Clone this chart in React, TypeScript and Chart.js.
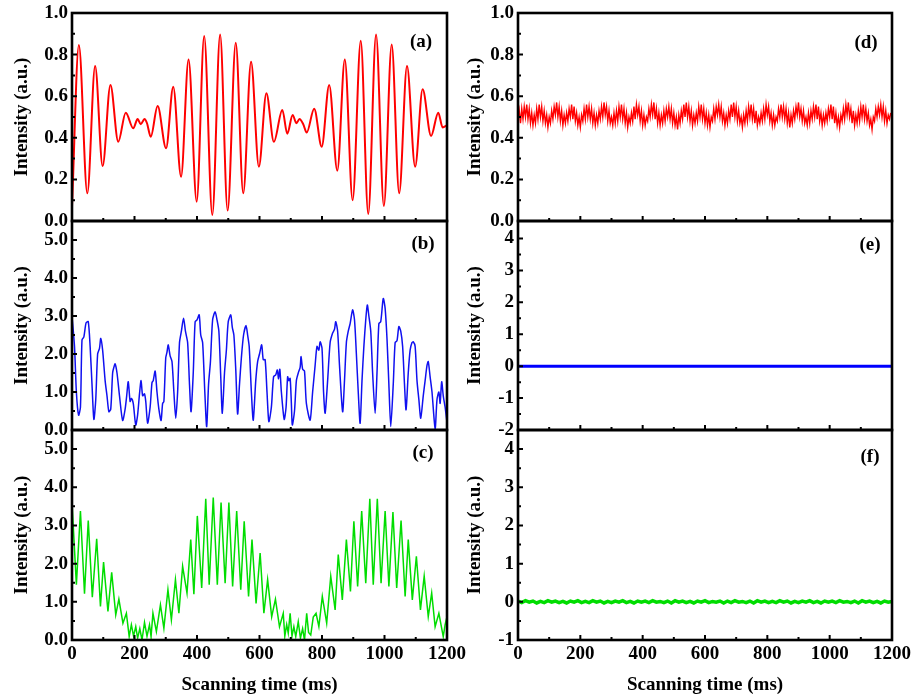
import React, { useEffect, useRef } from "react";
import { Chart, registerables } from "chart.js";

Chart.register(...registerables);

// ---------- tick values ----------
const X_TICKS = [0, 200, 400, 600, 800, 1000, 1200];
const X_MINOR = [100, 300, 500, 700, 900, 1100];
const Y_TICKS_01 = [0, 0.2, 0.4, 0.6, 0.8, 1.0];
const Y_MINOR_01 = [0.1, 0.3, 0.5, 0.7, 0.9];
const Y_TICKS_5 = [0, 1, 2, 3, 4, 5];
const Y_MINOR_5 = [0.5, 1.5, 2.5, 3.5, 4.5];
const Y_TICKS_E = [-2, -1, 0, 1, 2, 3, 4];
const Y_MINOR_E = [-1.5, -0.5, 0.5, 1.5, 2.5, 3.5];
const Y_TICKS_F = [-1, 0, 1, 2, 3, 4];
const Y_MINOR_F = [-0.5, 0.5, 1.5, 2.5, 3.5];

// ---------- (a) red ----------
const A_TIME = [0, 22, 49, 74, 98, 123, 148, 172, 196, 210, 220, 232, 240, 252, 274, 301, 324, 349, 373, 399, 423, 449, 474, 498, 524, 548, 573, 598, 622, 646, 673, 689, 706, 718, 728, 740, 751, 775, 799, 823, 849, 873, 898, 924, 948, 973, 998, 1023, 1047, 1072, 1098, 1122, 1149, 1172, 1186, 1200];
const A_VAL = [0.07, 0.846, 0.133, 0.745, 0.264, 0.654, 0.381, 0.521, 0.446, 0.49, 0.465, 0.49, 0.47, 0.405, 0.553, 0.35, 0.646, 0.213, 0.777, 0.093, 0.889, 0.029, 0.897, 0.05, 0.857, 0.133, 0.766, 0.261, 0.614, 0.381, 0.534, 0.42, 0.51, 0.47, 0.49, 0.465, 0.425, 0.54, 0.357, 0.654, 0.242, 0.777, 0.10, 0.867, 0.034, 0.897, 0.072, 0.849, 0.133, 0.745, 0.261, 0.633, 0.409, 0.521, 0.45, 0.46];

// ---------- (b) blue ----------
const B_TIME = [0, 8, 14, 21, 27, 32, 38, 45, 52, 58, 64, 70, 76, 82, 88, 92, 98, 106, 112, 118, 124, 130, 134, 138, 144, 152, 162, 170, 175, 180, 186, 190, 196, 204, 210, 216, 221, 226, 232, 236, 242, 250, 256, 260, 266, 272, 278, 285, 290, 294, 300, 304, 308, 314, 320, 326, 332, 338, 344, 350, 357, 363, 370, 376, 381, 388, 394, 400, 407, 412, 418, 425, 431, 437, 443, 450, 458, 464, 470, 476, 481, 488, 494, 500, 508, 513, 518, 524, 530, 536, 542, 549, 557, 562, 567, 574, 580, 588, 594, 600, 607, 612, 618, 624, 630, 638, 645, 652, 657, 661, 665, 670, 679, 685, 690, 694, 698, 702, 705, 712, 718, 724, 730, 733, 738, 744, 750, 762, 770, 778, 784, 790, 794, 800, 805, 810, 818, 826, 834, 840, 844, 850, 856, 866, 872, 878, 884, 890, 898, 904, 910, 916, 922, 928, 934, 940, 945, 950, 956, 962, 970, 976, 982, 988, 996, 1002, 1008, 1014, 1020, 1028, 1034, 1040, 1046, 1052, 1058, 1064, 1069, 1076, 1082, 1088, 1092, 1098, 1104, 1110, 1116, 1124, 1130, 1136, 1140, 1146, 1152, 1162, 1168, 1174, 1178, 1183, 1188, 1194, 1200];
const B_VAL = [3.0, 2.2, 1.0, 0.39, 0.6, 2.37, 2.45, 2.82, 2.85, 2.2, 1.2, 0.28, 0.8, 2.0, 2.15, 2.41, 2.1, 1.3, 0.9, 0.48, 0.55, 1.5, 1.65, 1.74, 1.5, 0.9, 0.25, 0.55, 0.9, 1.27, 0.75, 0.83, 0.7, 0.13, 0.4, 0.95, 1.3, 0.9, 0.95, 0.75, 0.18, 0.6, 1.25, 1.3, 1.55, 1.0, 0.55, 0.25, 0.7, 0.75, 1.9, 2.05, 2.24, 1.95, 1.8, 1.0, 0.31, 1.0, 2.3, 2.6, 2.94, 2.6, 2.3, 1.2, 0.48, 1.5, 2.85, 2.9, 3.03, 2.5, 2.3, 1.0, 0.09, 1.2, 1.8, 2.9, 3.11, 2.9, 2.6, 1.4, 0.44, 1.5, 2.1, 2.85, 3.03, 2.7, 2.5, 1.6, 0.42, 1.2, 1.9, 2.5, 2.75, 2.5, 2.2, 1.0, 0.26, 1.3, 1.8, 2.0, 2.24, 1.85, 1.85, 1.0, 0.22, 0.6, 1.4, 1.45, 1.58, 1.35, 1.6, 1.0, 0.28, 0.6, 1.4, 1.3, 1.36, 0.7, 0.13, 0.5, 1.3, 1.5, 1.65, 1.93, 1.6, 1.55, 0.7, 0.26, 1.0, 1.7, 2.2, 2.1, 2.32, 2.15, 1.0, 0.44, 1.3, 2.3, 2.55, 2.65, 2.85, 2.6, 1.7, 0.48, 1.3, 2.3, 2.6, 2.8, 3.16, 2.9, 2.0, 1.0, 0.18, 1.3, 2.2, 2.9, 3.29, 3.0, 2.6, 1.5, 0.44, 1.5, 2.8, 2.85, 3.46, 3.2, 2.4, 1.2, 0.09, 1.2, 2.3, 2.35, 2.72, 2.6, 2.2, 1.2, 0.53, 1.5, 2.1, 2.3, 2.32, 2.2, 1.3, 0.8, 0.31, 0.9, 1.3, 1.7, 1.8, 1.4, 1.0, 0.04, 0.8, 1.0, 0.7, 1.27, 0.9, 0.6, 0.2];

// ---------- (c) green ----------
const C_TIME = [0, 14, 27, 40, 52, 65, 79, 91, 101, 115, 127, 140, 150, 163, 174, 183, 190, 197, 204, 210, 217, 224, 232, 240, 248, 253, 259, 270, 283, 294, 307, 318, 331, 342, 354, 368, 380, 390, 401, 415, 428, 439, 452, 465, 477, 490, 502, 514, 527, 540, 551, 565, 576, 589, 602, 614, 626, 639, 651, 664, 676, 681, 687, 692, 698, 704, 710, 716, 724, 731, 738, 744, 751, 757, 764, 772, 781, 790, 801, 815, 828, 842, 852, 865, 878, 891, 902, 914, 927, 940, 953, 964, 977, 989, 1002, 1014, 1027, 1039, 1053, 1066, 1076, 1089, 1102, 1115, 1127, 1140, 1151, 1162, 1174, 1188, 1194, 1200];
const C_VAL = [3.6, 1.45, 3.38, 1.21, 3.13, 1.12, 2.65, 0.88, 2.04, 0.75, 1.77, 0.66, 1.07, 0.44, 0.70, 0.09, 0.4, 0.1, 0.35, 0.05, 0.3, 0.0, 0.46, 0.1, 0.4, 0.09, 0.70, 0.22, 0.92, 0.31, 1.32, 0.53, 1.58, 0.70, 1.93, 1.23, 2.63, 1.2, 3.25, 1.36, 3.70, 1.45, 3.73, 1.45, 3.60, 1.49, 3.60, 1.40, 3.38, 1.32, 3.11, 1.14, 2.63, 0.96, 2.28, 0.70, 1.58, 0.61, 1.07, 0.35, 0.70, 0.1, 0.4, 0.18, 0.70, 0.1, 0.35, 0.09, 0.48, 0.05, 0.3, 0.0, 0.70, 0.2, 0.13, 0.6, 0.70, 0.35, 1.14, 0.44, 1.67, 0.79, 2.24, 1.05, 2.63, 1.27, 3.11, 1.40, 3.38, 1.49, 3.70, 1.45, 3.70, 1.49, 3.38, 1.40, 3.35, 1.36, 3.13, 1.14, 2.63, 1.05, 2.19, 0.79, 1.67, 0.61, 1.23, 0.35, 0.70, 0.09, 0.4, 0.61];

// ---------- (d) red, sampled every 4 ms ----------
const D_STEP = 4;
const D_VAL = [
  0.48, 0.53, 0.47, 0.54, 0.49, 0.55, 0.50, 0.56, 0.49, 0.54, 0.47, 0.52, 0.46,
  0.51, 0.47, 0.54, 0.49, 0.56, 0.50, 0.55, 0.48, 0.53, 0.47, 0.51, 0.45, 0.50,
  0.47, 0.53, 0.49, 0.55, 0.51, 0.57, 0.50, 0.55, 0.48, 0.53, 0.46, 0.51, 0.47,
  0.52, 0.48, 0.54, 0.50, 0.56, 0.49, 0.55, 0.48, 0.52, 0.46, 0.50, 0.45, 0.51,
  0.48, 0.54, 0.49, 0.56, 0.50, 0.55, 0.49, 0.54, 0.47, 0.52, 0.46, 0.51, 0.47,
  0.53, 0.49, 0.55, 0.50, 0.57, 0.51, 0.55, 0.48, 0.53, 0.47, 0.50, 0.46, 0.52,
  0.47, 0.53, 0.48, 0.55, 0.50, 0.56, 0.49, 0.54, 0.47, 0.52, 0.45, 0.50, 0.47,
  0.52, 0.48, 0.55, 0.49, 0.56, 0.51, 0.55, 0.48, 0.53, 0.46, 0.51, 0.46, 0.50,
  0.48, 0.54, 0.50, 0.56, 0.51, 0.57, 0.49, 0.54, 0.47, 0.52, 0.46, 0.51, 0.47,
  0.53, 0.48, 0.54, 0.50, 0.55, 0.49, 0.54, 0.47, 0.52, 0.46, 0.50, 0.44, 0.51,
  0.47, 0.53, 0.49, 0.56, 0.50, 0.57, 0.50, 0.55, 0.48, 0.53, 0.46, 0.51, 0.47,
  0.52, 0.48, 0.55, 0.50, 0.56, 0.49, 0.54, 0.47, 0.52, 0.46, 0.51, 0.45, 0.50,
  0.48, 0.54, 0.49, 0.55, 0.51, 0.56, 0.50, 0.55, 0.48, 0.52, 0.46, 0.51, 0.47,
  0.53, 0.49, 0.56, 0.50, 0.57, 0.50, 0.55, 0.48, 0.53, 0.47, 0.50, 0.45, 0.51,
  0.47, 0.53, 0.48, 0.55, 0.50, 0.56, 0.49, 0.54, 0.47, 0.53, 0.46, 0.50, 0.47,
  0.52, 0.48, 0.54, 0.49, 0.56, 0.51, 0.55, 0.48, 0.52, 0.46, 0.51, 0.46, 0.50,
  0.48, 0.54, 0.50, 0.56, 0.50, 0.55, 0.49, 0.54, 0.47, 0.52, 0.45, 0.51, 0.47,
  0.53, 0.49, 0.55, 0.51, 0.57, 0.50, 0.54, 0.48, 0.53, 0.47, 0.50, 0.46, 0.52,
  0.47, 0.53, 0.49, 0.55, 0.50, 0.56, 0.49, 0.55, 0.48, 0.52, 0.46, 0.51, 0.47,
  0.52, 0.48, 0.54, 0.50, 0.56, 0.49, 0.55, 0.47, 0.52, 0.46, 0.50, 0.45, 0.51,
  0.48, 0.54, 0.49, 0.56, 0.51, 0.57, 0.50, 0.54, 0.47, 0.53, 0.46, 0.51, 0.47,
  0.53, 0.48, 0.55, 0.50, 0.56, 0.49, 0.54, 0.48, 0.52, 0.46, 0.49, 0.44, 0.50,
  0.48, 0.54, 0.50, 0.55, 0.51, 0.56, 0.50, 0.55, 0.48, 0.53, 0.47, 0.51, 0.49, 0.52
];

// ---------- (e) blue ----------
const E_TIME = [0, 300, 600, 900, 1200];
const E_VAL = [0, 0, 0, 0, 0];

// ---------- (f) green, sampled every 12 ms ----------
const F_STEP = 12;
const F_VAL = [
  0.02, -0.02, 0.03, -0.01, 0.02, -0.03, 0.01, -0.02, 0.03, -0.01,
  0.02, -0.02, 0.01, -0.03, 0.02, -0.01, 0.03, -0.02, 0.01, -0.02,
  0.03, -0.01, 0.02, -0.03, 0.01, -0.02, 0.02, -0.01, 0.03, -0.02,
  0.01, -0.03, 0.02, -0.01, 0.02, -0.02, 0.03, -0.01, 0.01, -0.02,
  0.02, -0.03, 0.03, -0.01, 0.02, -0.02, 0.01, -0.03, 0.02, -0.01,
  0.03, -0.02, 0.01, -0.01, 0.02, -0.03, 0.02, -0.02, 0.03, -0.01,
  0.01, -0.02, 0.02, -0.03, 0.03, -0.01, 0.02, -0.02, 0.01, -0.02,
  0.03, -0.01, 0.02, -0.03, 0.01, -0.02, 0.02, -0.01, 0.03, -0.02,
  0.01, -0.03, 0.02, -0.01, 0.02, -0.02, 0.03, -0.01, 0.01, -0.02,
  0.02, -0.03, 0.03, -0.01, 0.02, -0.02, 0.01, -0.03, 0.02, -0.01, 0.01
];

const X_TITLE = "Scanning time (ms)";
const Y_TITLE = "Intensity (a.u.)";

// ---------- layout ----------
const W = 912;
const H = 698;
const COLS = [
  { L: 72, R: 447, padLeft: 0, titlePad: 11 },
  { L: 518, R: 892, padLeft: 456, titlePad: 8 },
];
const ROWS = [
  { T: 13, B: 221 },
  { T: 221, B: 430 },
  { T: 430, B: 640 },
];
const FONT_FAMILY = '"Liberation Serif", "Times New Roman", Times, serif';
const FONT = { family: FONT_FAMILY, size: 19, weight: "bold" as const };

const pts = (t: number[], v: number[]) => v.map((y, i) => ({ x: t[i], y }));
const stepPts = (step: number, v: number[]) => v.map((y, i) => ({ x: Math.min(i * step, 1200), y }));

const PANELS = [
  { label: "(a)", col: 0, row: 0, data: pts(A_TIME, A_VAL), color: "#FF0000", width: 2, mono: true, tension: 0, yMin: 0, yMax: 1, yTicks: Y_TICKS_01, yMinor: Y_MINOR_01, dec: 1, lx: 26, ly: 29 },
  { label: "(b)", col: 0, row: 1, data: pts(B_TIME, B_VAL), color: "#1010F0", width: 1.5, mono: false, tension: 0.25, yMin: 0, yMax: 5.5, yTicks: Y_TICKS_5, yMinor: Y_MINOR_5, dec: 1, lx: 24, ly: 23 },
  { label: "(c)", col: 0, row: 2, data: pts(C_TIME, C_VAL), color: "#00DD00", width: 1.5, mono: false, tension: 0, yMin: 0, yMax: 5.5, yTicks: Y_TICKS_5, yMinor: Y_MINOR_5, dec: 1, lx: 24, ly: 23 },
  { label: "(d)", col: 1, row: 0, data: stepPts(D_STEP, D_VAL), color: "#FF0000", width: 1.4, mono: false, tension: 0, yMin: 0, yMax: 1, yTicks: Y_TICKS_01, yMinor: Y_MINOR_01, dec: 1, lx: 26, ly: 30 },
  { label: "(e)", col: 1, row: 1, data: pts(E_TIME, E_VAL), color: "#0000FF", width: 3, mono: false, tension: 0, yMin: -2, yMax: 4.55, yTicks: Y_TICKS_E, yMinor: Y_MINOR_E, dec: 0, lx: 22, ly: 24 },
  { label: "(f)", col: 1, row: 2, data: stepPts(F_STEP, F_VAL), color: "#00DD00", width: 3.5, mono: false, tension: 0, yMin: -1, yMax: 4.5, yTicks: Y_TICKS_F, yMinor: Y_MINOR_F, dec: 0, lx: 22, ly: 27 },
];

const framePlugin = {
  id: "frame",
  afterDraw(chart: any, _args: any, opts: any) {
    const { ctx, chartArea } = chart;
    const { left, right, top, bottom } = chartArea;
    const xs = chart.scales.x;
    const ys = chart.scales.y;
    ctx.save();
    ctx.strokeStyle = "#000";
    ctx.lineWidth = 2;
    ctx.beginPath();
    for (const v of X_TICKS) {
      const px = xs.getPixelForValue(v);
      ctx.moveTo(px, bottom);
      ctx.lineTo(px, bottom - 5);
    }
    for (const v of X_MINOR) {
      const px = xs.getPixelForValue(v);
      ctx.moveTo(px, bottom);
      ctx.lineTo(px, bottom - 3);
    }
    for (const v of opts.yTicks) {
      const py = ys.getPixelForValue(v);
      ctx.moveTo(left, py);
      ctx.lineTo(left + 5, py);
    }
    for (const v of opts.yMinor) {
      const py = ys.getPixelForValue(v);
      ctx.moveTo(left, py);
      ctx.lineTo(left + 3, py);
    }
    ctx.stroke();
    ctx.lineWidth = 2.6;
    ctx.strokeRect(left, top, right - left, bottom - top);
    ctx.fillStyle = "#000";
    ctx.font = `bold 19px ${FONT_FAMILY}`;
    ctx.textAlign = "center";
    ctx.textBaseline = "middle";
    ctx.fillText(opts.label, right - opts.lx, top + opts.ly);
    ctx.restore();
  },
};

function buildConfig(p: any): any {
  const col = COLS[p.col];
  const row = ROWS[p.row];
  const bottomRow = p.row === 2;
  return {
    type: "line",
    data: {
      datasets: [
        {
          data: p.data,
          borderColor: p.color,
          backgroundColor: p.color,
          borderWidth: p.width,
          pointRadius: 0,
          fill: false,
          tension: p.tension,
          cubicInterpolationMode: p.mono ? "monotone" : "default",
        },
      ],
    },
    options: {
      animation: false,
      responsive: false,
      events: [],
      layout: { padding: { left: col.padLeft, right: W - col.R, top: row.T, bottom: 0 } },
      plugins: {
        legend: { display: false },
        tooltip: { enabled: false },
        frame: { label: p.label, yTicks: p.yTicks, yMinor: p.yMinor, lx: p.lx, ly: p.ly },
      },
      scales: {
        x: {
          type: "linear",
          min: 0,
          max: 1200,
          afterBuildTicks: (s: any) => {
            s.ticks = X_TICKS.map((v) => ({ value: v }));
          },
          ticks: {
            display: bottomRow,
            padding: 3,
            font: FONT,
            color: "#000",
            maxRotation: 0,
            autoSkip: false,
            callback: (v: any) => String(Math.round(Number(v))),
          },
          grid: { display: false, drawTicks: false },
          border: { display: false },
          title: { display: bottomRow, text: X_TITLE, font: FONT, color: "#000", padding: { top: 0, bottom: 2 } },
          afterFit: (s: any) => {
            s.height = H - row.B;
            s.paddingLeft = 0;
            s.paddingRight = 0;
          },
        },
        y: {
          type: "linear",
          min: p.yMin,
          max: p.yMax,
          afterBuildTicks: (s: any) => {
            s.ticks = p.yTicks.map((v: number) => ({ value: v }));
          },
          ticks: {
            padding: 4,
            font: FONT,
            color: "#000",
            autoSkip: false,
            callback: (v: any) => Number(v).toFixed(p.dec),
          },
          grid: { display: false, drawTicks: false },
          border: { display: false },
          title: { display: true, text: Y_TITLE, font: FONT, color: "#000", padding: { top: col.titlePad, bottom: 0 } },
          afterFit: (s: any) => {
            s.width = col.L - col.padLeft;
            s.paddingTop = 0;
            s.paddingBottom = 0;
          },
        },
      },
    },
    plugins: [framePlugin],
  };
}

export default function App() {
  const refs = useRef<(HTMLCanvasElement | null)[]>([]);
  useEffect(() => {
    const charts = PANELS.map((p, i) => new Chart(refs.current[i] as HTMLCanvasElement, buildConfig(p)));
    return () => charts.forEach((c) => c.destroy());
  }, []);
  return (
    <div style={{ position: "absolute", left: 0, top: 0, width: W, height: H, background: "#fff" }}>
      {PANELS.map((p, i) => (
        <canvas
          key={p.label}
          ref={(el) => {
            refs.current[i] = el;
          }}
          width={W}
          height={H}
          style={{ position: "absolute", left: 0, top: 0, width: W, height: H }}
        />
      ))}
    </div>
  );
}
